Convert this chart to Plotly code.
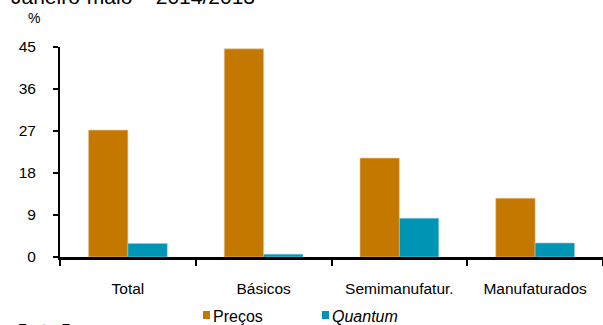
import plotly.graph_objects as go

categories = ["Total", "Básicos", "Semimanufatur.", "Manufaturados"]
precos = [27.2, 44.6, 21.2, 12.6]
quantum = [2.9, 0.6, 8.3, 3.0]
y_ticks = [0, 9, 18, 27, 36, 45]
series_names = ["Preços", "<i>Quantum</i>"]
series_colors = ["#C47800", "#0094B5"]

W, H = 603, 325
L, R, T, B = 60, 0, 47, 68
ph = H - T - B
pw = W - L - R

def py(pix):
    return (H - B - pix) / ph

def px(pix):
    return (pix - L) / pw

fig = go.Figure()
fig.add_trace(go.Bar(x=categories, y=precos, name=series_names[0],
                     marker=dict(color=series_colors[0], line=dict(color="#E8C898", width=0.6))))
fig.add_trace(go.Bar(x=categories, y=quantum, name=series_names[1],
                     marker=dict(color=series_colors[1], line=dict(color="#8FD0DE", width=0.6))))

font = "Liberation Sans, Arial, sans-serif"

# manual legend (avoids legend auto-margin)
legend_x = [203, 322]
shapes = []
annotations = []
for xpix, name, col in zip(legend_x, series_names, series_colors):
    shapes.append(dict(type="rect", xref="paper", yref="paper",
                       x0=px(xpix), x1=px(xpix + 7), y0=py(319), y1=py(311),
                       fillcolor=col, line=dict(width=0)))
    annotations.append(dict(text=name, xref="paper", yref="paper",
                            x=px(xpix + 8), y=py(316), xanchor="left", yanchor="middle",
                            showarrow=False, font=dict(size=16, color="black")))

annotations += [
    dict(text="Janeiro-maio \u2013 2014/2013", xref="paper", yref="paper",
         x=px(9), y=py(10), xanchor="left", yanchor="bottom", showarrow=False,
         font=dict(size=21, color="black")),
    dict(text="%", xref="paper", yref="paper", x=px(26), y=py(18),
         xanchor="left", yanchor="middle", showarrow=False,
         font=dict(size=14, color="black")),
    dict(text="Fonte: Funcex", xref="paper", yref="paper", x=px(16), y=py(319),
         xanchor="left", yanchor="top", showarrow=False,
         font=dict(size=14, color="black")),
]

fig.update_layout(
    width=W, height=H,
    margin=dict(l=L, r=R, t=T, b=B, pad=0),
    paper_bgcolor="white", plot_bgcolor="white",
    barmode="group", bargap=0.42, bargroupgap=0,
    font=dict(family=font, size=15.5, color="black"),
    showlegend=False,
    xaxis=dict(showline=True, linecolor="black", linewidth=3, ticks="outside",
               tickson="boundaries", ticklen=6, tickwidth=2, tickcolor="black",
               showgrid=False, zeroline=False, ticklabelstandoff=15,
               tickfont=dict(size=15.5)),
    yaxis=dict(range=[0, 45], tickvals=y_ticks, showline=True, linecolor="black",
               linewidth=2, ticks="outside", ticklen=5, tickwidth=2, tickcolor="black",
               showgrid=False, zeroline=False, ticklabelstandoff=14,
               tickfont=dict(size=15.5)),
    shapes=shapes,
    annotations=annotations,
)
fig.write_html("out.html")
